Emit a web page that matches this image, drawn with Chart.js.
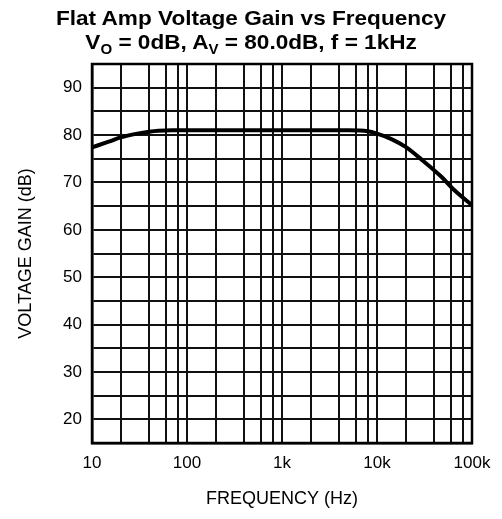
<!DOCTYPE html>
<html lang="en">
<head>
    <meta charset="UTF-8">
    <title>Flat Amp Voltage Gain vs Frequency</title>
    <script src="https://cdn.jsdelivr.net/npm/chart.js"></script>
    <style>
        body {
            margin: 0;
            background-color: #fff;
            font-family: 'Liberation Sans', Arial, sans-serif;
        }
        #wrap {
            position: relative;
            width: 502px;
            height: 519px;
        }
        #title {
            position: absolute;
            top: 6px;
            left: 0;
            width: 502px;
            text-align: center;
            font-weight: bold;
            font-size: 21px;
            line-height: 24px;
            color: #000;
            transform: scaleX(1.075);
            transform-origin: 250px 0;
        }
        #title sub {
            font-size: 14px;
            vertical-align: -5px;
            line-height: 0;
        }
        canvas {
            position: absolute;
            top: 0;
            left: 0;
        }
    </style>
</head>
<body>
    <div id="wrap">
        <canvas id="gainChart" width="502" height="519"></canvas>
        <div id="title">
            Flat Amp Voltage Gain vs Frequency<br>
            V<sub>O</sub> = 0dB, A<sub>V</sub> = 80.0dB, f = 1kHz
        </div>
    </div>

    <script>
        // Данные кривой (частота в Гц, усиление в дБ)
        const frequencies = [10, 15, 20, 30, 40, 50, 70, 100, 1000, 5000, 8000, 10000, 14000, 20000, 30000, 47000, 65000, 100000];
        const gainDb = [77.4, 78.6, 79.5, 80.3, 80.7, 80.9, 81.0, 81.0, 81.0, 81.0, 80.8, 80.3, 79.2, 77.5, 74.7, 71.3, 68.4, 65.2];

        // Сетка и подписи оси X
        const freqGridValues = [10, 20, 40, 60, 80, 100, 200, 400, 600, 800, 1000, 2000, 4000, 6000, 8000,
            10000, 20000, 40000, 60000, 80000, 100000];
        const freqTickValues = [10, 100, 1000, 10000, 100000];
        const freqTickLabels = ['10', '100', '1k', '10k', '100k'];

        // Подписи оси Y
        const gainTickValues = [20, 30, 40, 50, 60, 70, 80, 90];

        Chart.defaults.font.family = "'Liberation Sans', Arial, sans-serif";
        Chart.defaults.color = '#000';

        const points = frequencies.map((f, i) => ({ x: f, y: gainDb[i] }));

        const ctx = document.getElementById('gainChart').getContext('2d');
        new Chart(ctx, {
            type: 'line',
            data: {
                datasets: [{
                    data: points,
                    borderColor: '#000',
                    borderWidth: 4,
                    pointRadius: 0,
                    fill: false,
                    cubicInterpolationMode: 'monotone'
                }]
            },
            options: {
                responsive: false,
                animation: false,
                layout: {
                    padding: { top: 64, right: 30, left: 0, bottom: 0 }
                },
                plugins: {
                    legend: { display: false },
                    tooltip: { enabled: false }
                },
                scales: {
                    x: {
                        type: 'logarithmic',
                        min: 10,
                        max: 100000,
                        afterBuildTicks: (scale) => {
                            scale.ticks = freqGridValues.map(v => ({ value: v }));
                        },
                        afterFit: (scale) => { scale.height = 76; },
                        ticks: {
                            autoSkip: false,
                            maxRotation: 0,
                            padding: 10,
                            font: { size: 17 },
                            callback: (value) => {
                                const i = freqTickValues.indexOf(value);
                                return i >= 0 ? freqTickLabels[i] : '';
                            }
                        },
                        grid: {
                            color: '#111',
                            lineWidth: 2,
                            drawTicks: false
                        },
                        border: { color: '#000', width: 2.5 },
                        title: {
                            display: true,
                            text: 'FREQUENCY (Hz)',
                            font: { size: 18 },
                            padding: { top: 0, bottom: 9 }
                        }
                    },
                    y: {
                        min: 15,
                        max: 95,
                        afterFit: (scale) => { scale.width = 92; },
                        ticks: {
                            stepSize: 5,
                            padding: 10,
                            font: { size: 17 },
                            callback: (value) => gainTickValues.includes(value) ? value : ''
                        },
                        grid: {
                            color: '#111',
                            lineWidth: 2,
                            drawTicks: false
                        },
                        border: { color: '#000', width: 2.5 },
                        title: {
                            display: true,
                            text: 'VOLTAGE GAIN (dB)',
                            font: { size: 18 },
                            padding: { top: 15, bottom: 0 }
                        }
                    }
                }
            },
            plugins: [{
                // рамка вокруг области графика
                id: 'frame',
                afterDraw(chart) {
                    const a = chart.chartArea;
                    const c = chart.ctx;
                    c.save();
                    c.strokeStyle = '#000';
                    c.lineWidth = 2.5;
                    c.strokeRect(a.left, a.top, a.right - a.left, a.bottom - a.top);
                    c.restore();
                }
            }]
        });
    </script>
</body>
</html>
